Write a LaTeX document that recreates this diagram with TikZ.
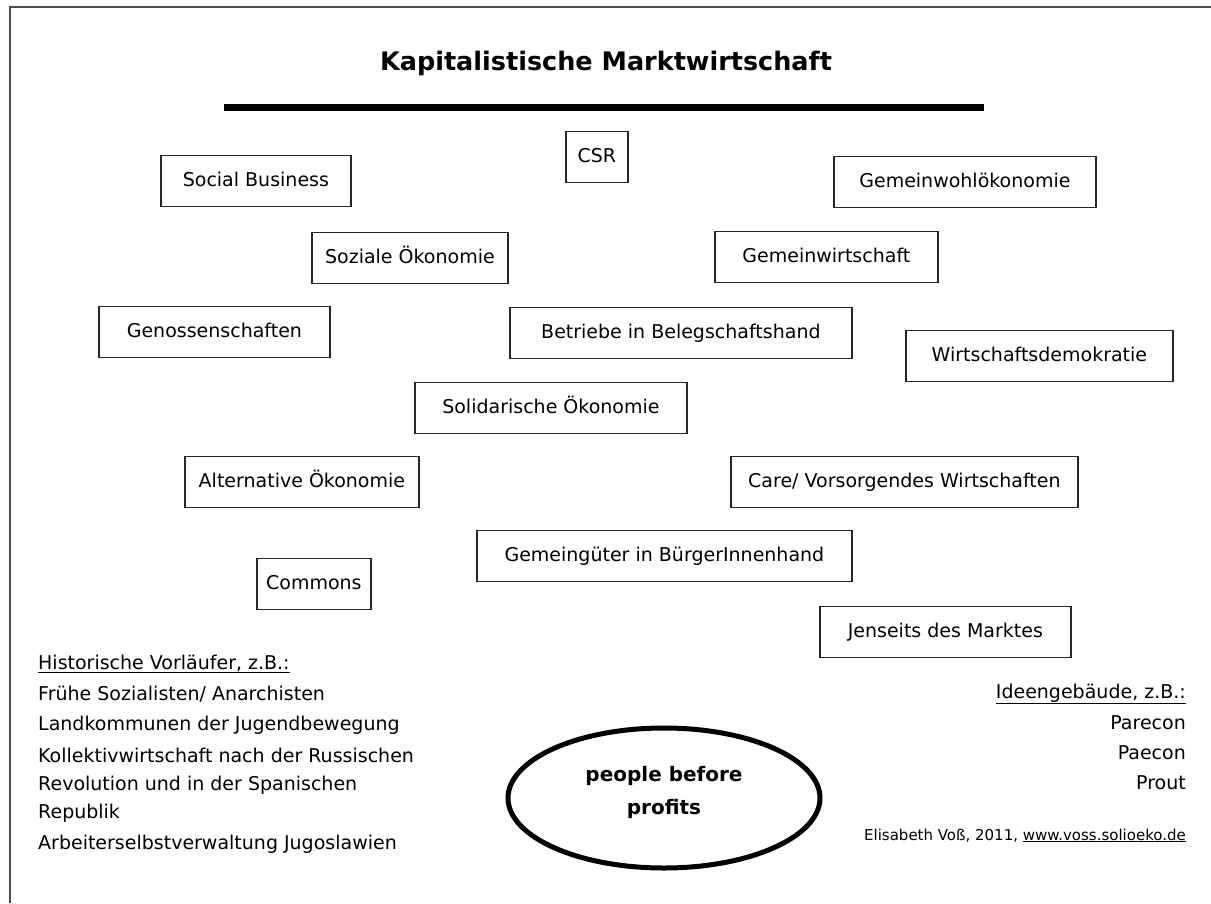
\documentclass[tikz,border=0pt]{standalone}
\usepackage{fontspec}
\setmainfont{DejaVu Sans}
\usetikzlibrary{shapes.geometric}
\begin{document}
\begin{tikzpicture}[x=1pt,y=-1pt,
  box/.style={draw=black!85, line width=1.8pt, anchor=west, inner xsep=4pt, inner ysep=0pt,
    minimum height=51pt, text height=14pt, text depth=4pt, font=\fontsize{19}{23}\selectfont},
  ltxt/.style={anchor=base west, inner sep=0pt, font=\fontsize{19}{23}\selectfont},
  rtxt/.style={anchor=base east, inner sep=0pt, font=\fontsize{19}{23}\selectfont},
  frame/.style={draw=black!70, line width=1.8pt}]
\useasboundingbox (0,0) rectangle (1211,903);
% frame
\draw[frame] (10,903) -- (10,7) -- (1211,7);
% title
\node[anchor=base, inner sep=0pt, font=\bfseries\fontsize{25.5}{30}\selectfont] (title) at (606,70) {Kapitalistische Marktwirtschaft};
\coordinate (barL) at (224,107);
\coordinate (barR) at (984,107);
\draw[line width=7pt] (barL) -- (barR);
% boxes
\node[box, minimum width=62pt] (csr) at (565,157) {CSR};
\node[box, minimum width=190pt] (sb) at (160,181) {Social Business};
\node[box, minimum width=262pt] (gwo) at (833,182) {Gemeinwohlökonomie};
\node[box, minimum width=196pt] (so) at (311,258) {Soziale Ökonomie};
\node[box, minimum width=223pt] (gw) at (714,257) {Gemeinwirtschaft};
\node[box, minimum width=231pt] (gen) at (98,332) {Genossenschaften};
\node[box, minimum width=342pt] (bib) at (509,333) {Betriebe in Belegschaftshand};
\node[box, minimum width=267pt] (wd) at (905,356) {Wirtschaftsdemokratie};
\node[box, minimum width=272pt] (sol) at (414,408) {Solidarische Ökonomie};
\node[box, minimum width=234pt] (alt) at (184,482) {Alternative Ökonomie};
\node[box, minimum width=347pt] (care) at (730,482) {Care/ Vorsorgendes Wirtschaften};
\node[box, minimum width=375pt] (gbh) at (476,556) {Gemeingüter in BürgerInnenhand};
\node[box, minimum width=114pt] (com) at (256,584) {Commons};
\node[box, minimum width=251pt] (jdm) at (819,632) {Jenseits des Marktes};
% left text
\node[ltxt] (h0) at (38,669) {\underline{Historische Vorläufer, z.B.:}};
\node[ltxt] (h1) at (38,700) {Frühe Sozialisten/ Anarchisten};
\node[ltxt] (h2) at (38,730) {Landkommunen der Jugendbewegung};
\node[ltxt] (h3) at (38,762) {Kollektivwirtschaft nach der Russischen};
\node[ltxt] (h4) at (38,790) {Revolution und in der Spanischen};
\node[ltxt] (h5) at (38,818) {Republik};
\node[ltxt] (h6) at (38,849) {Arbeiterselbstverwaltung Jugoslawien};
% right text
\node[rtxt] (i0) at (1186,698) {\underline{Ideengebäude, z.B.:}};
\node[rtxt] (i1) at (1186,729) {Parecon};
\node[rtxt] (i2) at (1186,759) {Paecon};
\node[rtxt] (i3) at (1186,789) {Prout};
\node[anchor=base east, inner sep=0pt, font=\fontsize{15}{18}\selectfont] (cred) at (1186,840) {Elisabeth Voß, 2011, \underline{www.voss.solioeko.de}};
% ellipse
\node[ellipse, draw, line width=5pt, minimum width=312pt, minimum height=140pt, inner sep=0pt] (pbp) at (664,798) {};
\node[align=center, inner sep=0pt, font=\bfseries\fontsize{20}{33}\selectfont] (pbptext) at (664,792) {people before\\profits};
\end{tikzpicture}
\end{document}
